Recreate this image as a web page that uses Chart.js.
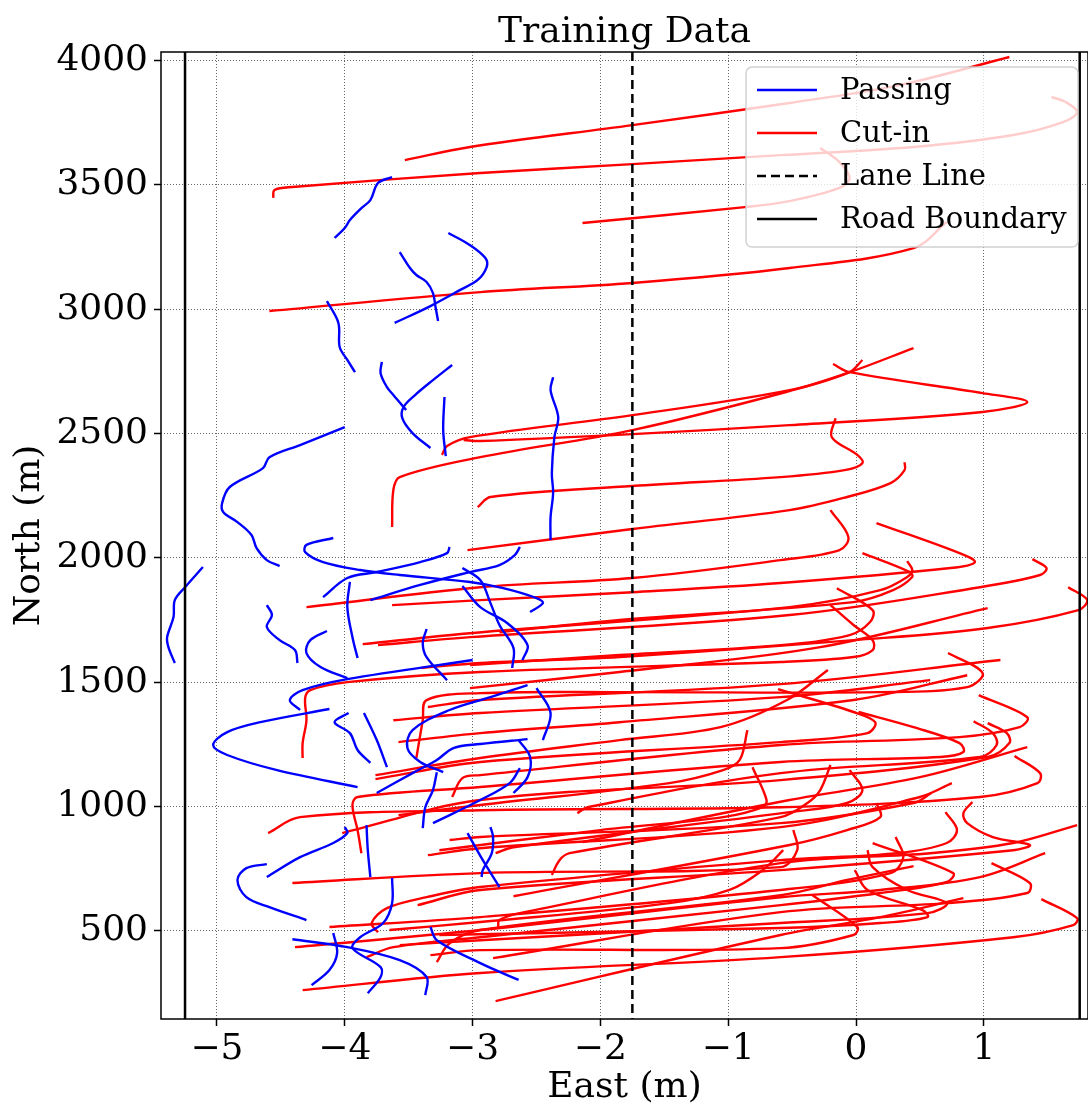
<!DOCTYPE html>
<html>
<head>
<meta charset="utf-8">
<title>Training Data</title>
<script src="https://cdn.jsdelivr.net/npm/chart.js@4.4.1/dist/chart.umd.min.js"></script>
<style>
body{margin:0;background:#fff;}
canvas{display:block;}
</style>
</head>
<body>
<canvas id="trajChart" width="1088" height="1109"></canvas>
<script>

// East (m), North (m) samples along each track
const passingTracks=[
[[-4.08,3287],[-4.00,3327],[-3.96,3359],[-3.87,3407],[-3.80,3439],[-3.74,3508],[-3.63,3532]],
[[-3.57,3230],[-3.49,3166],[-3.44,3138],[-3.36,3110],[-3.31,3065],[-3.29,3009],[-3.27,2953]],
[[-3.19,3307],[-3.02,3258],[-2.90,3206],[-2.89,3170],[-2.96,3118],[-3.10,3077],[-3.33,3013],[-3.61,2945]],
[[-4.14,3033],[-4.05,2945],[-4.04,2848],[-3.98,2796],[-3.92,2747]],
[[-3.71,2788],[-3.72,2743],[-3.67,2687],[-3.62,2655],[-3.52,2595]],
[[-3.16,2776],[-3.31,2715],[-3.45,2655],[-3.54,2607],[-3.55,2562],[-3.47,2502],[-3.33,2442]],
[[-3.22,2647],[-3.23,2514],[-3.21,2409]],
[[-4.00,2526],[-4.35,2454],[-4.59,2405],[-4.64,2361],[-4.90,2285],[-4.96,2220],[-4.95,2184],[-4.84,2144],[-4.73,2092],[-4.69,2039],[-4.61,1991],[-4.51,1967]],
[[-5.11,1963],[-5.25,1882],[-5.33,1830],[-5.34,1762],[-5.39,1681],[-5.38,1641],[-5.33,1577]],
[[-4.09,2080],[-4.30,2052],[-4.31,2023],[-4.17,1983],[-3.88,1951],[-3.57,1931],[-3.02,1903],[-2.76,1878],[-2.50,1838],[-2.45,1818],[-2.55,1782]],
[[-3.18,2044],[-3.20,2019],[-3.41,1983],[-3.75,1943],[-3.98,1919],[-4.17,1842]],
[[-3.80,1830],[-3.41,1891],[-3.02,1943],[-2.79,1971],[-2.67,2011],[-2.63,2044]],
[[-3.96,1903],[-3.98,1802],[-3.94,1681],[-3.90,1597]],
[[-4.61,1810],[-4.57,1770],[-4.61,1722],[-4.51,1669],[-4.39,1629],[-4.37,1577]],
[[-4.14,1706],[-4.27,1669],[-4.30,1617],[-4.19,1561],[-3.98,1516]],
[[-4.35,1388],[-4.43,1428],[-4.33,1468],[-3.98,1512],[-3.00,1589]],
[[-3.36,1714],[-3.39,1657],[-3.36,1601],[-3.20,1508]],
[[-3.08,1959],[-2.94,1911],[-2.86,1818],[-2.79,1730],[-2.68,1637],[-2.69,1557]],
[[-3.08,1887],[-2.94,1802],[-2.73,1738],[-2.57,1649],[-2.61,1589]],
[[-2.37,2727],[-2.39,2675],[-2.33,2566],[-2.36,2486],[-2.38,2341],[-2.37,2261],[-2.39,2164],[-2.39,2072]],
[[-4.12,1392],[-4.66,1339],[-4.92,1299],[-5.03,1247],[-4.92,1207],[-4.53,1146],[-3.90,1078]],
[[-3.97,1376],[-4.08,1339],[-3.96,1295],[-3.90,1227],[-3.80,1175]],
[[-3.85,1376],[-3.75,1267],[-3.67,1158]],
[[-2.57,1488],[-2.86,1440],[-3.18,1388],[-3.47,1307],[-3.51,1235],[-3.41,1179],[-3.23,1138]],
[[-3.75,1054],[-3.47,1134],[-3.28,1187],[-3.15,1235],[-2.94,1251],[-2.57,1271]],
[[-2.64,1267],[-2.55,1199],[-2.57,1118],[-2.68,1054]],
[[-2.63,1154],[-2.71,1094],[-2.94,1026],[-3.31,933]],
[[-3.28,1138],[-3.31,1066],[-3.37,997],[-3.39,913]],
[[-4.00,917],[-3.98,893],[-4.09,853],[-4.35,796],[-4.61,716]],
[[-4.61,768],[-4.77,752],[-4.84,704],[-4.77,635],[-4.59,595],[-4.30,543]],
[[-3.83,925],[-3.82,824],[-3.80,716]],
[[-3.63,712],[-3.63,611],[-3.70,531],[-3.88,474],[-3.94,430],[-3.72,354],[-3.72,314],[-3.82,249]],
[[-4.09,491],[-4.06,410],[-4.12,342],[-4.26,281]],
[[-4.41,466],[-3.98,434],[-3.57,382],[-3.36,314],[-3.37,241]],
[[-3.33,515],[-3.28,462],[-2.94,370],[-2.64,302]],
[[-2.50,1476],[-2.39,1376],[-2.45,1267]],
[[-2.86,917],[-2.84,877],[-2.85,812],[-2.92,744],[-2.93,716]],
[[-3.04,893],[-2.92,784],[-2.79,676]]
];

const cutInTracks=[
[[-3.53,3600],[-3.02,3653],[-1.75,3741],[-0.52,3830],[0.34,3902],[1.20,4015]],
[[-4.56,3448],[-4.55,3480],[-4.41,3492],[-2.94,3548],[-1.75,3584],[-0.59,3620],[0.45,3653],[1.23,3701],[1.62,3753],[1.73,3793],[1.64,3834],[1.53,3854]],
[[-2.14,3347],[-0.87,3411],[-0.52,3435],[-0.13,3488],[-0.05,3528],[-0.13,3592],[-0.28,3649]],
[[-4.59,2993],[-2.94,3069],[-1.75,3106],[-0.52,3166],[0.45,3246],[0.71,3351]],
[[-3.24,2414],[-3.20,2450],[-3.02,2486],[-1.75,2574],[-0.52,2675],[-0.05,2747],[0.45,2844]],
[[-3.63,2124],[-3.62,2273],[-3.57,2325],[-2.94,2405],[-1.75,2514],[-0.52,2671],[-0.05,2747],[0.05,2796]],
[[-3.07,2474],[-2.94,2470],[-1.75,2498],[-0.52,2534],[0.99,2587],[1.34,2627],[0.99,2663],[-0.05,2747],[-0.18,2780]],
[[-2.96,2204],[-2.86,2245],[-1.75,2289],[-0.59,2325],[-0.09,2353],[0.05,2381],[0.01,2414],[-0.19,2486],[-0.16,2562]],
[[-3.04,2031],[-1.75,2116],[-0.52,2192],[-0.07,2245],[0.27,2301],[0.38,2353],[0.38,2385]],
[[-4.30,1802],[-2.94,1882],[-1.75,1919],[-0.59,1991],[-0.13,2031],[-0.06,2084],[-0.20,2192]],
[[-3.63,1810],[-2.94,1830],[-1.75,1862],[-0.59,1899],[0.74,1959],[0.93,1983],[0.81,2019],[0.16,2140]],
[[-3.86,1653],[-3.02,1697],[-0.52,1802],[0.19,1870],[0.40,1923],[0.44,1951],[0.40,1987]],
[[-3.74,1649],[-3.02,1681],[-0.52,1770],[0.97,1882],[1.44,1931],[1.49,1959],[1.38,1995]],
[[-2.79,1701],[-1.85,1750],[-0.02,1822],[0.29,1870],[0.44,1923],[0.42,1943],[0.05,2019]],
[[-3.40,1557],[-2.94,1577],[-1.85,1601],[-0.02,1669],[1.03,1718],[1.74,1790],[1.81,1830],[1.66,1882]],
[[-3.02,1476],[-1.85,1541],[-0.28,1641],[1.03,1798]],
[[-3.02,1569],[-1.85,1609],[-0.59,1649],[-0.05,1689],[0.11,1742],[0.13,1790],[-0.15,1878]],
[[-4.33,1195],[-4.33,1255],[-4.30,1347],[-4.31,1436],[-4.27,1468],[-3.98,1500],[-2.94,1541],[-0.59,1581],[-0.02,1601],[0.13,1629],[0.13,1669],[-0.02,1730],[-0.20,1810]],
[[-3.44,1195],[-3.39,1347],[-3.36,1428],[-2.94,1456],[-1.85,1460],[0.19,1460],[0.87,1480],[0.99,1537],[0.72,1617]],
[[-3.76,1126],[-2.94,1195],[-1.85,1267],[-1.06,1319],[-0.54,1428],[-0.22,1549]],
[[-3.58,1259],[-2.94,1295],[-1.85,1339],[-0.02,1428],[0.87,1528]],
[[-3.76,1110],[-2.94,1179],[-0.59,1259],[0.09,1295],[0.15,1339],[-0.02,1380],[-0.61,1472]],
[[-3.16,1038],[-3.08,1114],[-2.94,1126],[-0.59,1247],[0.81,1279],[1.28,1319],[1.34,1359],[0.96,1448]],
[[-3.87,812],[-3.90,905],[-3.94,1006],[-3.90,1038],[-2.94,1078],[-0.59,1179],[0.66,1199],[0.84,1219],[0.81,1255],[0.45,1319],[0.02,1380]],
[[-2.18,973],[-2.10,997],[-0.59,1134],[0.97,1199],[1.10,1247],[1.07,1295],[0.92,1343]],
[[-4.02,893],[-2.94,1026],[-0.59,1106],[1.03,1199],[1.20,1255],[1.18,1295],[1.03,1335]],
[[-2.14,857],[-0.52,1026],[0.50,1118],[1.34,1239]],
[[-4.60,893],[-4.35,957],[-2.94,985],[-0.59,997],[0.97,1038],[1.42,1094],[1.44,1134],[1.24,1203]],
[[-2.82,812],[-2.68,836],[-0.52,977],[-0.07,1014],[0.05,1066],[-0.05,1146]],
[[-2.38,724],[-2.32,784],[-2.24,812],[-0.59,957],[-0.38,1014],[-0.28,1066],[-0.20,1167]],
[[-3.18,865],[-2.94,877],[-0.59,933],[0.45,1014],[0.59,1054]],
[[-3.35,804],[-2.94,832],[-0.59,917],[0.50,1038],[0.75,1094]],
[[-2.68,639],[-0.52,845],[-0.07,905],[0.19,957],[0.16,1014]],
[[-4.41,692],[-2.94,732],[-0.59,756],[-0.46,824],[-0.49,905]],
[[-3.43,603],[-2.94,664],[-0.59,744],[1.23,824],[1.36,845],[1.07,877],[0.87,933],[0.84,973],[0.91,1018]],
[[-3.74,494],[-3.79,531],[-3.67,591],[-3.36,635],[-2.94,676],[-0.59,784],[0.32,812],[0.71,853],[0.79,905],[0.70,977]],
[[-2.80,511],[-2.79,543],[-2.63,571],[-0.59,772],[0.58,812],[1.23,853],[1.73,925]],
[[-4.12,515],[-2.94,555],[-0.59,664],[0.27,732],[0.37,796],[0.31,877]],
[[-3.28,374],[-3.18,450],[-2.94,503],[-0.59,643],[-0.07,704],[0.45,760]],
[[-4.39,434],[-2.94,503],[-0.59,635],[0.19,664],[0.97,716],[1.48,812]],
[[-3.83,394],[-3.62,434],[-2.94,474],[-0.59,603],[0.19,652],[0.71,696],[0.76,732],[0.13,853]],
[[-2.84,390],[-0.59,575],[0.71,611],[1.34,652],[1.36,692],[1.06,772]],
[[-4.33,261],[-2.94,330],[-0.59,394],[1.23,474],[1.70,523],[1.73,551],[1.45,627]],
[[-2.82,217],[-0.59,483],[0.19,555],[0.84,631]],
[[-3.33,402],[-2.94,422],[-0.59,430],[-0.02,483],[0.01,515],[-0.34,643]],
[[-3.57,442],[-2.94,462],[-0.59,531],[0.56,571],[0.71,611],[0.40,664],[0.13,756],[0.09,824]],
[[-3.26,483],[-0.59,511],[0.19,531],[0.56,555],[0.52,583],[0.09,664],[-0.01,744]],
[[-3.26,824],[-2.00,905],[-1.04,957],[-0.73,997],[-0.70,1026],[-0.81,1158]],
[[-3.58,965],[-2.94,1006],[-1.46,1094],[-1.04,1146],[-0.91,1187],[-0.85,1307]],
[[-3.65,503],[-2.94,535],[-1.46,611],[-0.99,664],[-0.73,744],[-0.57,824]],
[[-3.62,1347],[-2.94,1376],[-0.59,1440],[0.58,1508]],
[[-3.35,1400],[-2.94,1428],[-0.59,1492],[1.13,1589]]
];

const laneLineX=-1.75;
const roadEdgesX=[-5.25,1.75];
const eastRange=[-5.438,1.815];
const northRange=[145,4035];
const eastTicks=[-5,-4,-3,-2,-1,0,1];
const northTicks=[500,1000,1500,2000,2500,3000,3500,4000];

const legendItems=[
{label:"Passing",color:"#0000ff",dash:[]},
{label:"Cut-in",color:"#ff0000",dash:[]},
{label:"Lane Line",color:"#000000",dash:[9,5]},
{label:"Road Boundary",color:"#000000",dash:[]}
];

const FONT="'DejaVu Serif', serif";

function track(pts,color){
return {
data:pts.map(p=>({x:p[0],y:p[1]})),
showLine:true,
borderColor:color,
borderWidth:2.4,
pointRadius:0,
tension:0.35,
fill:false
};
}

let datasets=[];
passingTracks.forEach(t=>datasets.push(track(t,"#0000ff")));
cutInTracks.forEach(t=>datasets.push(track(t,"#ff0000")));

// lane line, road edges, frame, title and the boxed legend inside the plot
const overlay={
id:"overlay",
afterDatasetsDraw(chart){
const ctx=chart.ctx;
const a=chart.chartArea;
const xs=chart.scales.x;

ctx.save();
ctx.beginPath();
ctx.rect(a.left,a.top,a.right-a.left,a.bottom-a.top);
ctx.clip();
ctx.strokeStyle="#000";
ctx.lineWidth=2.5;
roadEdgesX.forEach(v=>{
const px=xs.getPixelForValue(v);
ctx.beginPath();ctx.moveTo(px,a.top);ctx.lineTo(px,a.bottom);ctx.stroke();
});
ctx.setLineDash([9,5]);
const lx=xs.getPixelForValue(laneLineX);
ctx.beginPath();ctx.moveTo(lx,a.top);ctx.lineTo(lx,a.bottom);ctx.stroke();
ctx.restore();

ctx.save();
ctx.strokeStyle="#000";
ctx.lineWidth=1.5;
ctx.strokeRect(a.left,a.top,a.right-a.left,a.bottom-a.top);
ctx.fillStyle="#000";
ctx.font="36px "+FONT;
ctx.textAlign="center";
ctx.textBaseline="alphabetic";
ctx.fillText("Training Data",(a.left+a.right)/2,a.top-10);
ctx.restore();

// legend
const w=332,h=180;
const right=a.right-10,top=a.top+15,left=right-w;
ctx.save();
ctx.beginPath();
ctx.roundRect(left,top,w,h,6);
ctx.fillStyle="rgba(255,255,255,0.8)";
ctx.fill();
ctx.strokeStyle="rgba(204,204,204,0.9)";
ctx.lineWidth=1.5;
ctx.stroke();
ctx.font="29px "+FONT;
ctx.textBaseline="middle";
ctx.textAlign="left";
legendItems.forEach((it,i)=>{
const cy=top+23+i*43;
ctx.strokeStyle=it.color;
ctx.lineWidth=it.color=="#000000"?2.5:2.4;
ctx.setLineDash(it.dash);
ctx.beginPath();ctx.moveTo(left+11,cy);ctx.lineTo(left+71,cy);ctx.stroke();
ctx.setLineDash([]);
ctx.fillStyle="#000";
ctx.fillText(it.label,left+94,cy+1);
});
ctx.restore();
}
};

const ctx=document.getElementById("trajChart").getContext("2d");

new Chart(ctx,{
type:"scatter",
data:{datasets:datasets},
options:{
responsive:false,
devicePixelRatio:1,
animation:false,
layout:{padding:{left:0,right:0,top:52,bottom:0}},
plugins:{
legend:{display:false},
tooltip:{enabled:false},
title:{display:false}
},
scales:{
x:{
type:"linear",
min:eastRange[0],
max:eastRange[1],
afterBuildTicks(s){s.ticks=eastTicks.map(v=>({value:v}));},
ticks:{
color:"#000",
padding:2,
font:{family:FONT,size:36},
callback:v=>v<0?"\u2212"+Math.abs(v):String(v)
},
grid:{color:"rgba(0,0,0,0.6)",lineWidth:1,tickColor:"#000",tickLength:7,tickWidth:1.5},
border:{display:false,dash:[1,2]},
title:{display:true,text:"East (m)",color:"#000",font:{family:FONT,size:36},padding:{top:0,bottom:0}},
afterFit(s){s.height=90;}
},
y:{
type:"linear",
min:northRange[0],
max:northRange[1],
afterBuildTicks(s){s.ticks=northTicks.map(v=>({value:v}));},
ticks:{
color:"#000",
padding:6,
font:{family:FONT,size:36},
callback:v=>String(v)
},
grid:{color:"rgba(0,0,0,0.6)",lineWidth:1,tickColor:"#000",tickLength:7,tickWidth:1.5},
border:{display:false,dash:[1,2]},
title:{display:true,text:"North (m)",color:"#000",font:{family:FONT,size:36},padding:{top:8,bottom:0}},
afterFit(s){s.width=161;}
}
}
},
plugins:[overlay]
});

</script>
</body>
</html>
